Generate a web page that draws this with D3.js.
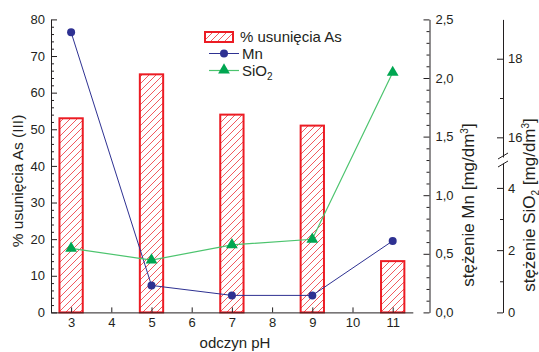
<!DOCTYPE html>
<html lang="pl">
<head>
<meta charset="UTF-8">
<title>usuwanie As</title>
<script src="https://d3js.org/d3.v7.min.js"></script>
<style>
  body { margin: 0; background: #fff; }
  svg { font-family: "Liberation Sans", Arial, sans-serif; }
  .axis path, .axis line { stroke: #231f20; }
  .axis text { fill: #231f20; font-size: 13px; font-family: "Liberation Sans", Arial, sans-serif; }
</style>
</head>
<body>
<div id="chart"></div>
<script>
// data
const ph = [3, 5, 7, 9, 11];
const asRemoval = [53, 65, 54, 51, 14];        // % usunięcia As (III)
const mn = [2.39, 0.23, 0.145, 0.145, 0.61];   // mg/dm3
const sio2 = [2.06, 1.68, 2.17, 2.35, 17.65];  // mg/dm3
const xTicks = [3, 4, 5, 6, 7, 8, 9, 10, 11];
const siTicksLow = [0, 2, 4];
const siTicksHigh = [16, 18];

const width = 539, height = 352;
const plotLeft = 51, plotRight = 412.8, plotTop = 19.4, plotBottom = 312.4;

const svg = d3.select("#chart").append("svg")
    .attr("width", width)
    .attr("height", height);

const x = d3.scaleLinear().domain([2.5, 11.5]).range([plotLeft, plotRight]);
const y = d3.scaleLinear().domain([0, 80]).range([plotBottom, plotTop]);
const yMn = d3.scaleLinear().domain([0, 2.5]).range([plotBottom, plotTop]);
// broken SiO2 axis
const breakLo = 163, breakHi = 157;
const ySiLo = d3.scaleLinear().domain([0, 4.8]).range([plotBottom, breakLo]);
const ySiHi = d3.scaleLinear().domain([15.5, 19]).range([breakHi, plotTop]);
const ySi = v => v <= 4.8 ? ySiLo(v) : ySiHi(v);

const red = "#ec1c24", hatch = "#f15a5f";
const blue = "#2e3192", greenLine = "#4cc46e", green = "#00a651";

// hatch pattern
const defs = svg.append("defs");
const pat = defs.append("pattern")
    .attr("id", "hatch")
    .attr("patternUnits", "userSpaceOnUse")
    .attr("width", 7).attr("height", 7);
pat.append("rect").attr("width", 7).attr("height", 7).attr("fill", "#fff");
pat.append("path")
    .attr("d", "M0,7 L7,0 M-1,1 L1,-1 M6,8 L8,6")
    .attr("stroke", hatch)
    .attr("stroke-width", 1);

// bars
const barW = 0.58;
svg.append("g").selectAll("rect")
    .data(ph)
    .join("rect")
    .attr("x", (d) => x(d - barW / 2))
    .attr("width", x(barW) - x(0))
    .attr("y", (d, i) => y(asRemoval[i]))
    .attr("height", (d, i) => y(0) - y(asRemoval[i]))
    .attr("fill", "url(#hatch)")
    .attr("stroke", red)
    .attr("stroke-width", 2);

// left axis
svg.append("g").attr("class", "axis")
    .attr("transform", `translate(${plotLeft},0)`)
    .call(d3.axisLeft(y).tickValues(d3.range(0, 81, 10)).tickSizeInner(-6).tickSizeOuter(0).tickPadding(6));
svg.append("g").attr("class", "axis")
    .attr("transform", `translate(${plotLeft},0)`)
    .call(d3.axisLeft(y).tickValues(d3.range(0, 81, 2).filter(v => v % 10)).tickSize(-3).tickFormat(""))
    .select(".domain").remove();

// bottom axis
svg.append("g").attr("class", "axis")
    .attr("transform", `translate(0,${plotBottom})`)
    .call(d3.axisBottom(x).tickValues(xTicks).tickSizeInner(-5).tickSizeOuter(0).tickPadding(5));

// Mn axis
const mnX = 429.5;
const comma = v => d3.format(".1f")(v).replace(".", ",");
svg.append("g").attr("class", "axis")
    .attr("transform", `translate(${mnX},0)`)
    .call(d3.axisRight(yMn).tickValues(d3.range(0, 2.51, 0.5)).tickSizeInner(-6).tickSizeOuter(0).tickPadding(6).tickFormat(comma));
svg.append("g").attr("class", "axis")
    .attr("transform", `translate(${mnX},0)`)
    .call(d3.axisRight(yMn).tickValues(d3.range(0, 25).map(v => v / 10).filter((v, i) => i % 5)).tickSize(-3).tickFormat(""))
    .select(".domain").remove();

// SiO2 axis (broken)
const siX = 503;
const intFmt = d3.format("d");
svg.append("g").attr("class", "axis")
    .attr("transform", `translate(${siX},0)`)
    .call(d3.axisRight(ySiLo).tickValues(siTicksLow).tickSizeInner(-6).tickSizeOuter(0).tickPadding(5).tickFormat(intFmt));
svg.append("g").attr("class", "axis")
    .attr("transform", `translate(${siX},0)`)
    .call(d3.axisRight(ySiLo).tickValues([1, 3]).tickSize(-3).tickFormat(""))
    .select(".domain").remove();
svg.append("g").attr("class", "axis")
    .attr("transform", `translate(${siX},0)`)
    .call(d3.axisRight(ySiHi).tickValues(siTicksHigh).tickSizeInner(-6).tickSizeOuter(0).tickPadding(5).tickFormat(intFmt));
svg.append("g").attr("class", "axis")
    .attr("transform", `translate(${siX},0)`)
    .call(d3.axisRight(ySiHi).tickValues([17]).tickSize(-3).tickFormat(""))
    .select(".domain").remove();
svg.append("g")
    .selectAll("line")
    .data([breakLo + 1, breakHi - 1])
    .join("line")
    .attr("x1", siX - 5).attr("x2", siX + 5)
    .attr("y1", d => d + 3).attr("y2", d => d - 3)
    .attr("stroke", "#231f20");

// lines
const line = d3.line();
svg.append("path")
    .attr("d", line(ph.map((d, i) => [x(d), yMn(mn[i])])))
    .attr("fill", "none").attr("stroke", blue).attr("stroke-width", 1);
svg.append("path")
    .attr("d", line(ph.map((d, i) => [x(d), ySi(sio2[i])])))
    .attr("fill", "none").attr("stroke", greenLine).attr("stroke-width", 1.2);

svg.append("g").selectAll("circle")
    .data(ph)
    .join("circle")
    .attr("cx", d => x(d))
    .attr("cy", (d, i) => yMn(mn[i]))
    .attr("r", 4)
    .attr("fill", blue);

const tri = d3.symbol().type(d3.symbolTriangle).size(60);
svg.append("g").selectAll("path")
    .data(ph)
    .join("path")
    .attr("d", tri)
    .attr("transform", (d, i) => `translate(${x(d)},${ySi(sio2[i])})`)
    .attr("fill", green);

// axis titles
svg.append("text")
    .attr("transform", "translate(22.5,181) rotate(-90)")
    .attr("text-anchor", "middle")
    .attr("font-size", 15.5).attr("fill", "#231f20")
    .text("% usunięcia As (III)");
svg.append("text")
    .attr("x", 235).attr("y", 348)
    .attr("text-anchor", "middle")
    .attr("font-size", 15).attr("fill", "#231f20")
    .text("odczyn pH");

const mnTitle = svg.append("text")
    .attr("transform", "translate(473.5,205) rotate(-90)")
    .attr("text-anchor", "middle")
    .attr("font-size", 17).attr("fill", "#231f20");
mnTitle.append("tspan").text("stężenie Mn [mg/dm");
mnTitle.append("tspan").attr("dy", -6).attr("font-size", 10).text("3");
mnTitle.append("tspan").attr("dy", 6).text("]");

const siTitle = svg.append("text")
    .attr("transform", "translate(535,205) rotate(-90)")
    .attr("text-anchor", "middle")
    .attr("font-size", 17).attr("fill", "#231f20");
siTitle.append("tspan").text("stężenie SiO");
siTitle.append("tspan").attr("dy", 4).attr("font-size", 10).text("2");
siTitle.append("tspan").attr("dy", -4).text(" [mg/dm");
siTitle.append("tspan").attr("dy", -6).attr("font-size", 10).text("3");
siTitle.append("tspan").attr("dy", 6).text("]");

// legend
const lg = svg.append("g").attr("font-size", 15).attr("fill", "#231f20");
lg.append("rect")
    .attr("x", 205).attr("y", 32).attr("width", 28).attr("height", 10)
    .attr("fill", "url(#hatch)").attr("stroke", red).attr("stroke-width", 2);
lg.append("text").attr("x", 240).attr("y", 42).text("% usunięcia As");

lg.append("line").attr("x1", 209).attr("x2", 239).attr("y1", 53.5).attr("y2", 53.5)
    .attr("stroke", blue).attr("stroke-width", 1);
lg.append("circle").attr("cx", 224).attr("cy", 53.5).attr("r", 4).attr("fill", blue);
lg.append("text").attr("x", 242).attr("y", 59).text("Mn");

lg.append("line").attr("x1", 209).attr("x2", 239).attr("y1", 70.5).attr("y2", 70.5)
    .attr("stroke", greenLine).attr("stroke-width", 1.2);
lg.append("path").attr("d", tri).attr("transform", "translate(224,70)").attr("fill", green);
const siLeg = lg.append("text").attr("x", 242).attr("y", 76);
siLeg.append("tspan").text("SiO");
siLeg.append("tspan").attr("dy", 4).attr("font-size", 10).text("2");
</script>
</body>
</html>
